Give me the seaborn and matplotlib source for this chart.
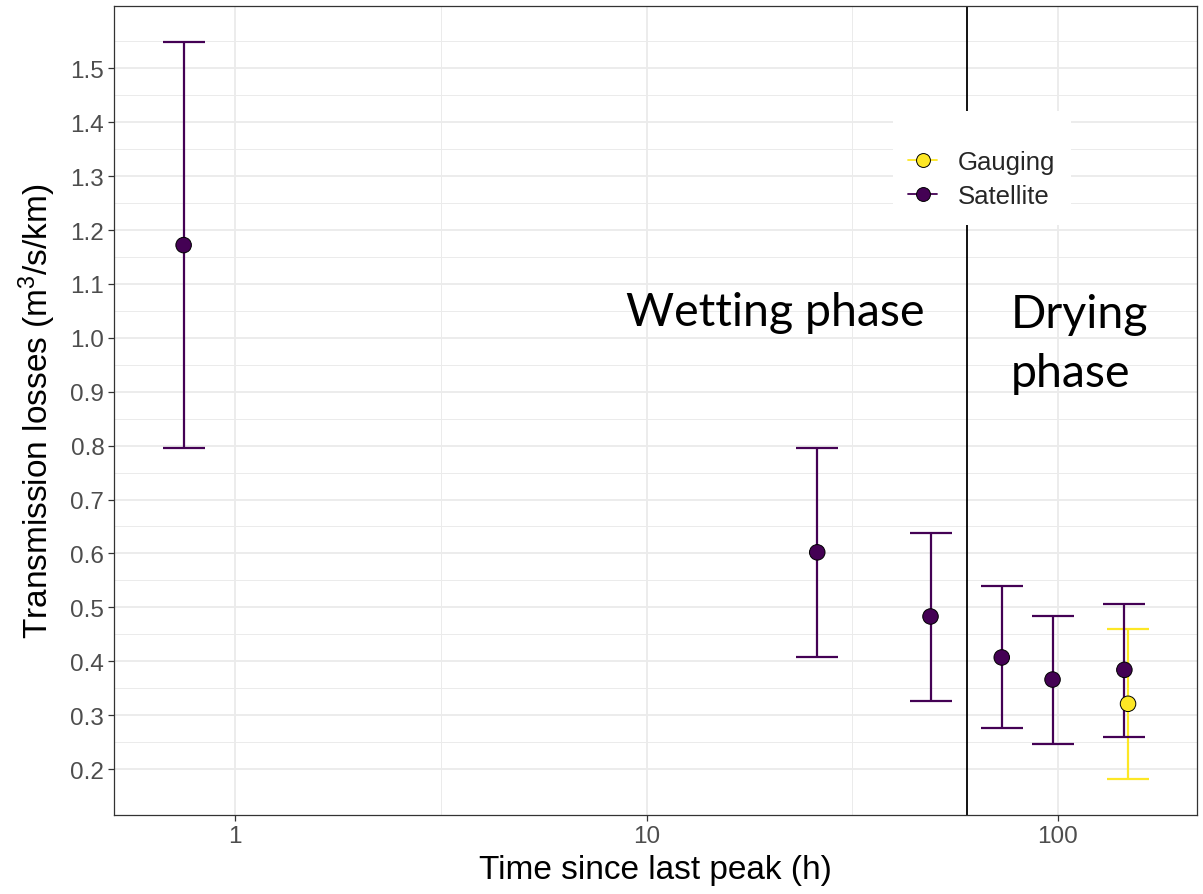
import numpy as np
import pandas as pd
import matplotlib
matplotlib.use("Agg")
import matplotlib.pyplot as plt
from matplotlib.lines import Line2D
from matplotlib.patches import Rectangle
from matplotlib.ticker import FixedLocator, NullFormatter
import seaborn as sns

# values
time_h = [0.75, 26.0, 49.0, 73.0, 97.0, 145.0, 148.0]
losses = [1.172, 0.602, 0.483, 0.407, 0.366, 0.384, 0.321]
lower = [0.796, 0.408, 0.327, 0.276, 0.246, 0.259, 0.181]
upper = [1.548, 0.795, 0.638, 0.540, 0.484, 0.507, 0.460]
source = ["Satellite", "Satellite", "Satellite", "Satellite", "Satellite", "Satellite", "Gauging"]
phase_split = 60  # h
legend_order = ["Gauging", "Satellite"]
x_ticks = [1, 10, 100]
y_ticks = [0.2, 0.3, 0.4, 0.5, 0.6, 0.7, 0.8, 0.9, 1.0, 1.1, 1.2, 1.3, 1.4, 1.5]

pal = {"Gauging": "#FDE725", "Satellite": "#440154"}

df = pd.DataFrame({"time": time_h, "loss": losses, "lo": lower, "hi": upper, "source": source})

sns.set_theme(style="white")
plt.rcParams['font.family'] = ['Liberation Sans', 'DejaVu Sans']
plt.rcParams['mathtext.default'] = 'regular'

fig = plt.figure(figsize=(12.03, 8.95), dpi=100)
ax = fig.add_axes([114/1203, 1-816/895, (1197-114)/1203, (816-7)/895])
ax.set_xscale('log')

# error bars, gauging first so satellite sits on top
for src in legend_order:
    d = df[df.source == src]
    ax.errorbar(d.time, d.loss, yerr=[d.loss - d.lo, d.hi - d.loss], fmt='none',
                ecolor=pal[src], elinewidth=1.6, capsize=14.8, capthick=1.6, zorder=3)

sns.scatterplot(data=df, x="time", y="loss", hue="source", palette=pal, s=125,
                edgecolor="black", linewidth=0.7, legend=False, zorder=4, ax=ax)

ax.axvline(phase_split, color="black", lw=1.3, zorder=2)

ax.text(20.6, 1.047, "Wetting phase", family=["Lato", "DejaVu Sans"], fontsize=33.5,
        color="black", ha="center", va="center")
ax.text(113, 0.99, "Drying\nphase", family=["Lato", "DejaVu Sans"], fontsize=33.5,
        color="black", ha="center", va="center", multialignment="left", linespacing=1.5)

ax.set_xlim(0.508, 217.7)
ax.set_ylim(0.1147, 1.6156)
ax.set_xticks(x_ticks)
ax.set_xticklabels([str(t) for t in x_ticks])
ax.xaxis.set_minor_locator(FixedLocator([10**0.5, 10**1.5]))
ax.xaxis.set_minor_formatter(NullFormatter())
ax.set_yticks(y_ticks)
ax.set_yticklabels([f"{t:.1f}" for t in y_ticks])
ax.yaxis.set_minor_locator(FixedLocator(np.array(y_ticks) + 0.05))

ax.grid(which="major", color="#EBEBEB", lw=1.3)
ax.grid(which="minor", color="#EBEBEB", lw=0.7)
ax.set_axisbelow(True)
ax.tick_params(which="major", length=4, width=0.9, color="#333333",
               labelcolor="#4D4D4D", labelsize=17.5, pad=3, left=True, bottom=True)
ax.tick_params(which="minor", length=0)
for sp in ax.spines.values():
    sp.set_color("#333333")
    sp.set_linewidth(0.9)

ax.set_xlabel("Time since last peak (h)", fontsize=24, color="black", labelpad=5)
ax.set_ylabel("Transmission losses (m$^3$/s/km)", fontsize=24, color="black", labelpad=9)

# legend box like ggplot's inside legend
ax.add_patch(Rectangle((0.7193, 0.7293), 0.1644, 0.1409, transform=ax.transAxes,
                       facecolor="white", edgecolor="none", zorder=5))
handles = [Line2D([], [], color=pal[s], lw=1.3, marker="o", markersize=10,
                  markerfacecolor=pal[s], markeredgecolor="black", markeredgewidth=0.7)
           for s in legend_order]
leg = ax.legend(handles, legend_order, loc="center left", bbox_to_anchor=(0.733, 0.786),
                frameon=False, fontsize=18.5, handlelength=1.15, handletextpad=0.8,
                borderpad=0, labelspacing=0.4, borderaxespad=0)
leg.set_zorder(6)

fig.savefig("out.png", dpi=100)
